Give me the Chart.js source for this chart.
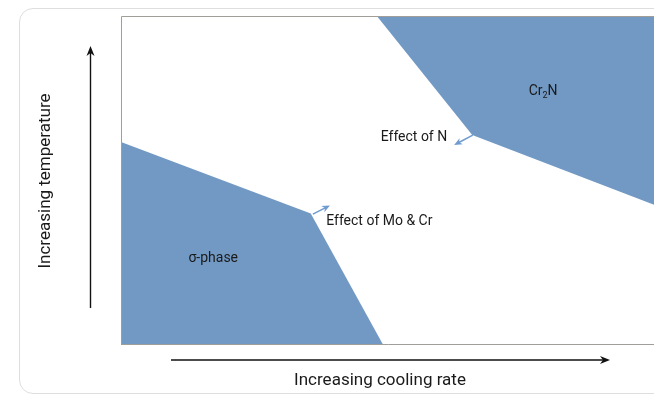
<!DOCTYPE html>
<html>
<head>
<meta charset="utf-8">
<script src="https://cdn.jsdelivr.net/npm/chart.js@4/dist/chart.umd.min.js"></script>
<style>
  html, body { margin: 0; padding: 0; width: 654px; height: 395px; overflow: hidden; background: #fff; }
  #card { position: absolute; left: 19px; top: 8px; width: 680px; height: 386px; border: 1px solid #dedede; border-radius: 14px; box-sizing: border-box; }
  #wrap { position: absolute; left: 0; top: 0; width: 654px; height: 395px; }
</style>
</head>
<body>
<div id="card"></div>
<div id="wrap"><canvas id="c" width="654" height="395"></canvas></div>
<script>
// ---- data (abstract units: cooling rate 0..10, temperature 0..10) ----
const sigmaX = [0, 3.56, 4.92];
const sigmaY = [6.17, 4.0, 0];
const cr2nX = [4.80, 6.59, 10];
const cr2nY = [10, 6.38, 4.26];
const regionLabels = ['σ-phase', 'Cr2N'];
const regionLabelX = [1.73, 7.92];
const regionLabelY = [2.64, 7.69];
const effectLabels = ['Effect of Mo & Cr', 'Effect of N'];
const effectFromX = [3.60, 6.60];
const effectFromY = [3.98, 6.38];
const effectToX = [3.92, 6.25];
const effectToY = [4.24, 6.08];
const effectTextX = [3.85, 6.12];
const effectTextY = [3.74, 6.31];
const xTitle = 'Increasing cooling rate';
const yTitle = 'Increasing temperature';

const BLUE = '#7299c4';
const ARROW_BLUE = '#6f9bd0';
const TEXT = '#1a1a1a';
const FONT = 'Roboto, "Noto Sans", sans-serif';

function pts(xs, ys) { return xs.map((x, i) => ({ x: x, y: ys[i] })); }

function arrow(ctx, x1, y1, x2, y2, color, lw, headLen, headW) {
  const ang = Math.atan2(y2 - y1, x2 - x1);
  ctx.save();
  ctx.strokeStyle = color; ctx.fillStyle = color; ctx.lineWidth = lw;
  ctx.beginPath();
  ctx.moveTo(x1, y1);
  ctx.lineTo(x2 - Math.cos(ang) * headLen * 0.6, y2 - Math.sin(ang) * headLen * 0.6);
  ctx.stroke();
  ctx.translate(x2, y2); ctx.rotate(ang);
  ctx.beginPath();
  ctx.moveTo(0, 0);
  ctx.lineTo(-headLen, -headW / 2);
  ctx.lineTo(-headLen * 0.7, 0);
  ctx.lineTo(-headLen, headW / 2);
  ctx.closePath(); ctx.fill();
  ctx.restore();
}

const decor = {
  id: 'decor',
  afterDatasetsDraw(chart) {
    const ctx = chart.ctx, a = chart.chartArea;
    const xs = chart.scales.x, ys = chart.scales.y;
    ctx.save();
    // frame (left, top, bottom)
    ctx.strokeStyle = '#a19d99'; ctx.lineWidth = 1;
    ctx.beginPath();
    ctx.moveTo(a.right + 5, a.top + 0.5);
    ctx.lineTo(a.left + 0.5, a.top + 0.5);
    ctx.lineTo(a.left + 0.5, a.bottom - 0.5);
    ctx.lineTo(a.right + 5, a.bottom - 0.5);
    ctx.stroke();

    // axis arrows outside the plot
    arrow(ctx, 90.5, 308, 90.5, 46, '#111', 1.4, 10, 8);
    arrow(ctx, 171, 360, 610, 360, '#111', 1.4, 10, 8);

    // axis titles
    ctx.fillStyle = TEXT;
    ctx.font = '17px ' + FONT;
    ctx.textAlign = 'center'; ctx.textBaseline = 'middle';
    ctx.fillText(xTitle, 380, 381);
    ctx.save();
    ctx.translate(46, 181); ctx.rotate(-Math.PI / 2);
    ctx.fillText(yTitle, 0, 0);
    ctx.restore();

    // effect arrows + labels
    ctx.font = '14px ' + FONT;
    effectLabels.forEach((t, i) => {
      arrow(ctx, xs.getPixelForValue(effectFromX[i]), ys.getPixelForValue(effectFromY[i]),
            xs.getPixelForValue(effectToX[i]), ys.getPixelForValue(effectToY[i]), ARROW_BLUE, 1.5, 8, 7);
      ctx.fillStyle = TEXT;
      ctx.textAlign = i === 0 ? 'left' : 'right';
      ctx.textBaseline = 'middle';
      ctx.fillText(t, xs.getPixelForValue(effectTextX[i]), ys.getPixelForValue(effectTextY[i]));
    });

    // region labels
    ctx.fillStyle = TEXT; ctx.textBaseline = 'middle';
    regionLabels.forEach((t, i) => {
      const px = xs.getPixelForValue(regionLabelX[i]);
      const py = ys.getPixelForValue(regionLabelY[i]);
      if (t === 'Cr2N') {
        ctx.font = '14px ' + FONT;
        const w1 = ctx.measureText('Cr').width, w3 = ctx.measureText('N').width;
        ctx.font = '9px ' + FONT;
        const w2 = ctx.measureText('2').width;
        let x0 = px - (w1 + w2 + w3) / 2;
        ctx.textAlign = 'left';
        ctx.font = '14px ' + FONT; ctx.fillText('Cr', x0, py);
        ctx.font = '9px ' + FONT; ctx.fillText('2', x0 + w1, py + 4);
        ctx.font = '14px ' + FONT; ctx.fillText('N', x0 + w1 + w2, py);
      } else {
        ctx.font = '14px ' + FONT;
        ctx.textAlign = 'center';
        ctx.fillText(t, px, py);
      }
    });
    ctx.restore();
  }
};

new Chart(document.getElementById('c'), {
  type: 'line',
  data: {
    datasets: [
      { label: 'σ-phase', data: pts(sigmaX, sigmaY), fill: 'start', backgroundColor: BLUE, borderWidth: 0, borderColor: BLUE, pointRadius: 0, tension: 0 },
      { label: 'Cr2N', data: pts(cr2nX, cr2nY), fill: 'end', backgroundColor: BLUE, borderWidth: 0, borderColor: BLUE, pointRadius: 0, tension: 0 }
    ]
  },
  options: {
    responsive: false,
    animation: false,
    events: [],
    layout: { padding: { left: 121, top: 16, right: 0, bottom: 50 } },
    scales: {
      x: { type: 'linear', min: 0, max: 10, display: false },
      y: { type: 'linear', min: 0, max: 10, display: false }
    },
    plugins: { legend: { display: false }, tooltip: { enabled: false }, filler: { propagate: false } }
  },
  plugins: [decor]
});
</script>
</body>
</html>
